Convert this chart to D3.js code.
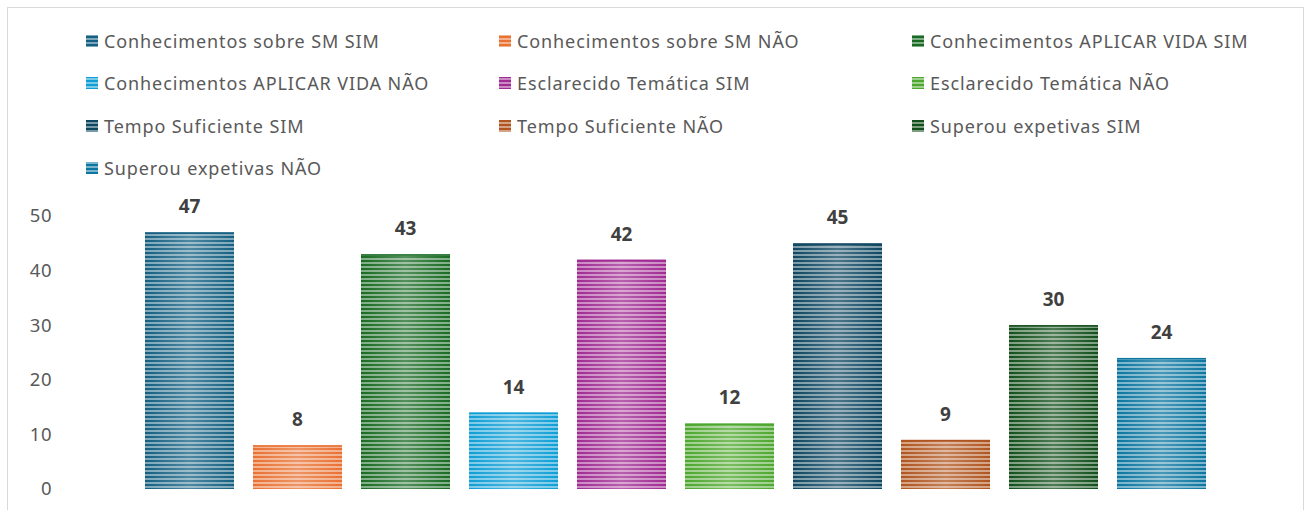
<!DOCTYPE html>
<html><head><meta charset="utf-8">
<script src="https://cdn.jsdelivr.net/npm/d3@7"></script>
<style>body{margin:0;background:#fff;} svg{display:block;}</style>
</head><body>
<svg id="c" width="1306" height="510"></svg>
<script>
const seriesNames = ["Conhecimentos sobre SM SIM","Conhecimentos sobre SM NÃO","Conhecimentos APLICAR VIDA SIM","Conhecimentos APLICAR VIDA NÃO","Esclarecido Temática SIM","Esclarecido Temática NÃO","Tempo Suficiente SIM","Tempo Suficiente NÃO","Superou expetivas SIM","Superou expetivas NÃO"];
const values = [47,8,43,14,42,12,45,9,30,24];
const colors = ["#156082","#E97132","#196B24","#0F9ED5","#A02B93","#4EA72E","#0F4761","#B0551F","#124F1A","#0B76A0"];
const yTicks = [0,10,20,30,40,50];

const svg = d3.select("#c");
const font = "Noto Sans, sans-serif";
svg.append("rect").attr("x",7.5).attr("y",7.5).attr("width",1296).attr("height",520)
  .attr("fill","#fff").attr("stroke","#d9d9d9").attr("stroke-width",1);

const defs = svg.append("defs");
const grad = defs.append("linearGradient").attr("id","hg").attr("x1","0").attr("x2","1").attr("y1","0").attr("y2","0");
grad.append("stop").attr("offset","0").attr("stop-color","#fff").attr("stop-opacity",0);
grad.append("stop").attr("offset","0.5").attr("stop-color","#fff").attr("stop-opacity",0.25);
grad.append("stop").attr("offset","1").attr("stop-color","#fff").attr("stop-opacity",0);

colors.forEach((c,i)=>{
  const p = defs.append("pattern").attr("id","p"+i).attr("patternUnits","userSpaceOnUse")
    .attr("width",8).attr("height",4);
  p.append("rect").attr("width",8).attr("height",4).attr("fill",d3.interpolateRgb(c,"#fff")(0.45));
  p.append("rect").attr("width",8).attr("height",2).attr("fill",c);
});

const x = d3.scaleBand().domain(d3.range(values.length)).range([135.5,1215.5]).paddingInner(0.176).paddingOuter(0.088);
const y = d3.scaleLinear().domain([0,50]).range([489,216]);

const g = svg.append("g");
g.selectAll("rect.bar").data(values).join("rect").attr("class","bar")
  .attr("x",(d,i)=>x(i)).attr("y",d=>y(d)).attr("width",x.bandwidth()).attr("height",d=>y(0)-y(d))
  .attr("fill",(d,i)=>`url(#p${i})`);
g.selectAll("rect.sh").data(values).join("rect").attr("class","sh")
  .attr("x",(d,i)=>x(i)).attr("y",d=>y(d)).attr("width",x.bandwidth()).attr("height",d=>y(0)-y(d))
  .attr("fill","url(#hg)");
g.selectAll("rect.tp").data(values).join("rect").attr("class","tp")
  .attr("x",(d,i)=>x(i)).attr("y",d=>y(d)).attr("width",x.bandwidth()).attr("height",1.5)
  .attr("fill",(d,i)=>colors[i]);
g.selectAll("text.lbl").data(values).join("text").attr("class","lbl")
  .attr("x",(d,i)=>x(i)+x.bandwidth()/2).attr("y",d=>y(d)-26)
  .attr("text-anchor","middle").attr("dominant-baseline","central")
  .attr("font-family",font).attr("font-size",19).attr("font-weight","bold").attr("fill","#404040")
  .text(d=>d);

const ax = svg.append("g").attr("transform","translate(52,0)")
  .call(d3.axisLeft(y).tickValues(yTicks).tickSize(0).tickPadding(0));
ax.select(".domain").remove();
ax.selectAll("text").attr("font-family",font).attr("font-size",18.5).attr("fill","#595959").attr("letter-spacing",0.5);

const legX = [86,499,912], legY = [41,83,126,168];
const lg = svg.append("g");
seriesNames.forEach((n,i)=>{
  const cx = legX[i%3], cy = legY[Math.floor(i/3)];
  lg.append("rect").attr("x",cx).attr("y",cy-6).attr("width",12).attr("height",12).attr("fill",`url(#p${i})`);
  lg.append("text").attr("x",cx+18).attr("y",cy).attr("dominant-baseline","central")
    .attr("font-family",font).attr("font-size",18).attr("letter-spacing",0.9).attr("fill","#595959").text(n);
});
</script>
</body></html>
